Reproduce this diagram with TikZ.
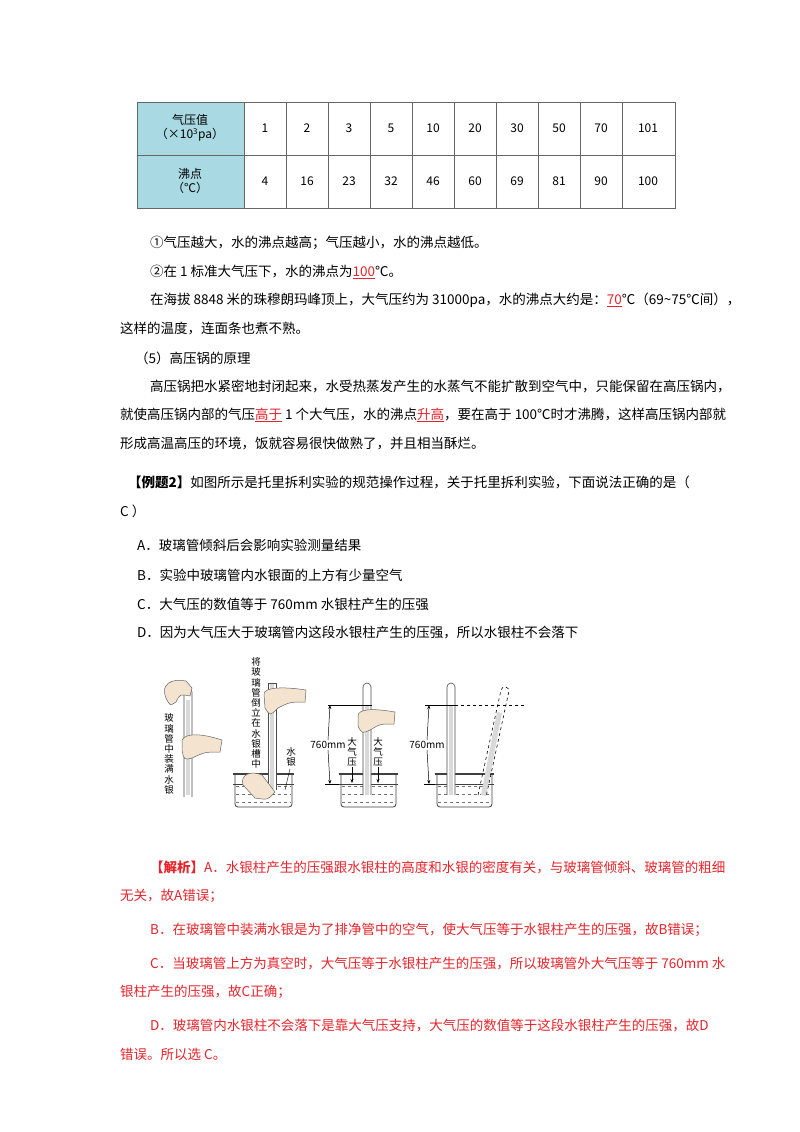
\documentclass[tikz,border=0pt]{standalone}
\usepackage{fontspec}
\setmainfont{Noto Sans CJK SC}
\usetikzlibrary{arrows.meta}
\definecolor{headblue}{HTML}{A9D9E3}
\definecolor{ansred}{HTML}{E8242B}
\definecolor{skin}{HTML}{F3E3CF}
\definecolor{hg}{HTML}{D9D9D9}
\tikzset{
  txt/.style={anchor=west, inner sep=0pt, font=\fontsize{13.5}{16}\selectfont},
  redtxt/.style={txt, text=ansred},
  cell/.style={font=\fontsize{12}{14}\selectfont, align=center},
  vtxt/.style={font=\fontsize{9.5}{10.2}\selectfont, text width=10pt, align=center, inner sep=0pt},
  tube/.style={draw=black!70, fill=white, line width=0.6pt},
  hand/.style={draw=black!60, fill=skin, line width=0.5pt},
  dim/.style={-{Stealth[length=4pt,width=3pt]}, line width=0.5pt}
}
% tube with rounded top: x-left, top, bottom
\newcommand{\glasstube}[3]{%
  \draw[tube] (#1,#3) -- (#1,#2+4) arc[start angle=180, end angle=360, radius=4] -- (#1+8,#3);}
% beaker: x-left, x-right
\newcommand{\beaker}[2]{%
  \fill[white] (#1,773) rectangle (#2,807);
  \foreach \yy in {786,794,802} \draw[dashed, black!55, line width=0.4pt] (#1+3,\yy) -- (#2-3,\yy);
  \draw[black!75, line width=0.5pt] (#1,784) -- (#2,784);
  \draw[black!75, line width=0.8pt, rounded corners=3pt] (#1+2,775) -- (#1+2,807) -- (#2-2,807) -- (#2-2,775);
  \draw[black!75, line width=1.2pt] (#1,774) -- (#2,774);}
\begin{document}
\begin{tikzpicture}[x=1pt, y=-1pt]
\useasboundingbox (0,0) rectangle (800,1132);
\fill[white] (0,0) rectangle (800,1132);

% Table
\fill[headblue] (137,102) rectangle (244,208);
\draw[black!60, line width=0.8pt] (137,102) rectangle (675,208);
\draw[black!60] (137,155) -- (675,155);
\foreach \xx in {244,286,328,370,412,454,496,538,580,622}
  \draw[black!60] (\xx,102) -- (\xx,208);
\node[cell] (h1) at (190,128) {气压值\\（×10\textsuperscript{3}pa）};
\node[cell] (h2) at (190,181) {沸点\\（℃）};
\foreach \p/\b [count=\i from 0] in {1/4,2/16,3/23,5/32,10/46,20/60,30/69,50/81,70/90}{
  \node[cell] (p\i) at (265+42*\i,128) {\p};
  \node[cell] (b\i) at (265+42*\i,181) {\b};
}
\node[cell] (p9) at (648,128) {101};
\node[cell] (b9) at (648,181) {100};

% Text
\node[txt] (l1) at (150,243) {①气压越大，水的沸点越高；气压越小，水的沸点越低。};
\node[txt] (l2) at (150,272) {②在 1 标准大气压下，水的沸点为\textcolor{ansred}{\underline{100}}℃。};
\node[txt] (l3) at (150,300) {在海拔 8848 米的珠穆朗玛峰顶上，大气压约为 31000pa，水的沸点大约是：\textcolor{ansred}{\underline{70}}℃（69\textasciitilde75℃间），};
\node[txt] (l4) at (120,329) {这样的温度，连面条也煮不熟。};
\node[txt] (l5) at (135,358) {（5）高压锅的原理};
\node[txt] (l6) at (150,386) {高压锅把水紧密地封闭起来，水受热蒸发产生的水蒸气不能扩散到空气中，只能保留在高压锅内，};
\node[txt] (l7) at (120,415) {就使高压锅内部的气压\textcolor{ansred}{\underline{高于}} 1 个大气压，水的沸点\textcolor{ansred}{\underline{升高}}，要在高于 100℃时才沸腾，这样高压锅内部就};
\node[txt] (l8) at (120,444) {形成高温高压的环境，饭就容易很快做熟了，并且相当酥烂。};
\node[txt] (q0) at (128,482) {\textbf{【例题2】}如图所示是托里拆利实验的规范操作过程，关于托里拆利实验，下面说法正确的是（};
\node[txt] (q1) at (120,511) {C ）};
\node[txt] (qa) at (137,545) {A．玻璃管倾斜后会影响实验测量结果};
\node[txt] (qb) at (137,575) {B．实验中玻璃管内水银面的上方有少量空气};
\node[txt] (qc) at (137,604) {C．大气压的数值等于 760mm 水银柱产生的压强};
\node[txt] (qd) at (137,633) {D．因为大气压大于玻璃管内这段水银柱产生的压强，所以水银柱不会落下};

% Figure, panel 1
\glasstube{184}{688}{797}
\fill[hg] (186,700) rectangle (190,795);
\node[vtxt] (t1) at (169,754) {玻\\璃\\管\\中\\装\\满\\水\\银};
\draw[hand] (166,698) .. controls (160,684) and (172,678) .. (186,681) -- (192,688) -- (190,696) .. controls (180,694) .. (176,702) .. controls (170,706) .. (166,698);
\draw[hand] (182,740) .. controls (186,733) and (200,733) .. (222,740) -- (220,752) .. controls (205,752) .. (192,758) .. controls (184,760) .. (182,750) -- cycle;

% panel 2
\node[vtxt] (t2) at (256,713) {将\\玻\\璃\\管\\倒\\立\\在\\水\\银\\槽\\中};
\beaker{233}{294}
\draw[tube] (268,790) -- (268,683) -- (276,683) -- (276,790);
\fill[hg] (270,684) rectangle (274,789);
\draw[hand] (264,694) .. controls (264,688) and (280,686) .. (306,690) -- (305,702) .. controls (290,702) .. (278,708) .. controls (270,716) .. (265,708) -- cycle;
\draw[hand] (243,785) .. controls (240,775) and (250,770) .. (262,775) -- (275,792) .. controls (268,800) .. (255,798) -- cycle;
\node[vtxt] (hg2) at (291,757) {水\\银};
\draw[line width=0.4pt] (hg2.south) ++(-1,2) -- (285,790);

% panel 3
\beaker{339}{398}
\glasstube{363}{683}{795}
\fill[hg] (365,705) rectangle (369,795);
\draw[line width=0.5pt] (328,705) -- (372,705);
\node[font=\fontsize{10}{11}\selectfont, inner sep=1pt, fill=white] (m3) at (328,745) {760mm};
\draw[dim] (m3.north) -- (330,705);
\draw[dim] (m3.south) -- (330,784);
\draw[line width=0.5pt] (325,784) -- (339,784);
\node[vtxt] (a31) at (352,752) {大\\气\\压};
\node[vtxt] (a32) at (378,752) {大\\气\\压};
\draw[dim] (a31.south) -- (352,783);
\draw[dim] (a32.south) -- (378,783);
\draw[hand] (358,716) .. controls (358,709) and (372,708) .. (395,712) -- (394,724) .. controls (380,724) .. (372,729) .. controls (362,734) .. (358,726) -- cycle;

% panel 4
\beaker{435}{494}
\glasstube{447}{683}{795}
\fill[hg] (449,705) rectangle (453,795);
\draw[line width=0.5pt] (425,705) -- (455,705);
\draw[dashed, line width=0.5pt] (455,705) -- (524,705);
\node[font=\fontsize{10}{11}\selectfont, inner sep=1pt, fill=white] (m4) at (427,745) {760mm};
\draw[dim] (m4.north) -- (429,705);
\draw[dim] (m4.south) -- (429,784);
\draw[line width=0.5pt] (424,784) -- (435,784);
\fill[hg] (481,795) -- (497,712) -- (502,713) -- (486,796) -- cycle;
\draw[dashed, line width=0.6pt] (478,795) -- (501,690) arc[start angle=192, end angle=372, radius=4] -- (486,797);

% Answer
\node[redtxt] (r1) at (150,867) {\textbf{【解析】}A．水银柱产生的压强跟水银柱的高度和水银的密度有关，与玻璃管倾斜、玻璃管的粗细};
\node[redtxt] (r2) at (120,896) {无关，故A错误；};
\node[redtxt] (r3) at (150,930) {B．在玻璃管中装满水银是为了排净管中的空气，使大气压等于水银柱产生的压强，故B错误；};
\node[redtxt] (r4) at (150,963) {C．当玻璃管上方为真空时，大气压等于水银柱产生的压强，所以玻璃管外大气压等于 760mm 水};
\node[redtxt] (r5) at (120,992) {银柱产生的压强，故C正确；};
\node[redtxt] (r6) at (150,1025) {D．玻璃管内水银柱不会落下是靠大气压支持，大气压的数值等于这段水银柱产生的压强，故D};
\node[redtxt] (r7) at (120,1054) {错误。所以选 C。};
\end{tikzpicture}
\end{document}
